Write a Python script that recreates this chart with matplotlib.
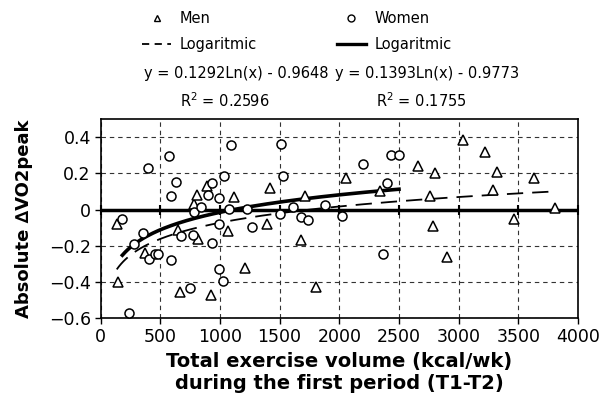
import numpy as np
import matplotlib.pyplot as plt
from matplotlib.lines import Line2D

plt.rcParams['font.family'] = ['DejaVu Sans']

# Men (triangles): exercise volume vs change in VO2peak
men_x = [136, 144, 370, 652, 666, 786, 809, 813, 896, 925, 1069, 1114, 1214,
         1395, 1416, 1678, 1714, 1806, 2058, 2343, 2659, 2762, 2784, 2804,
         2902, 3036, 3217, 3284, 3321, 3466, 3634, 3810]
men_y = [-0.082, -0.40, -0.24, -0.11, -0.455, 0.03, 0.08, -0.163, 0.128,
         -0.472, -0.119, 0.07, -0.32, -0.082, 0.12, -0.17, 0.077, -0.425,
         0.174, 0.10, 0.242, 0.073, -0.088, 0.20, -0.262, 0.383, 0.32, 0.11,
         0.21, -0.051, 0.174, 0.009]

# Women (circles)
women_x = [183, 242, 281, 359, 395, 409, 457, 485, 574, 588, 591, 636, 675,
           750, 773, 784, 840, 904, 932, 932, 995, 995, 995, 1022, 1038, 1080,
           1093, 1225, 1265, 1505, 1513, 1532, 1614, 1678, 1739, 1876, 2024,
           2198, 2365, 2399, 2432, 2500]
women_y = [-0.05, -0.57, -0.19, -0.13, 0.23, -0.27, -0.245, -0.245, 0.295,
           0.073, -0.277, 0.152, -0.143, -0.435, -0.142, -0.015, 0.017, 0.082,
           0.145, -0.187, 0.066, -0.077, -0.33, -0.395, 0.184, 0.005, 0.355,
           0.002, -0.097, -0.027, 0.363, 0.185, 0.015, -0.04, -0.055, 0.024,
           -0.037, 0.25, -0.247, 0.145, 0.304, 0.304]

# logarithmic trendlines y = a*ln(x) + b, as printed on the chart
men_fit = (0.1292, -0.9648)
women_fit = (0.1393, -0.9773)
men_range = (136, 3770)
women_range = (183, 2500)

xticks = [0, 500, 1000, 1500, 2000, 2500, 3000, 3500, 4000]
yticks = [-0.6, -0.4, -0.2, 0, 0.2, 0.4]

fig = plt.figure(figsize=(6.03, 4.04), dpi=100)
ax = fig.add_axes([0.1667, 0.2121, 0.792, 0.4933])

ax.set_xlim(0, 4000)
ax.set_ylim(-0.6, 0.5)
ax.set_xticks(xticks)
ax.set_yticks(yticks)
ax.set_yticklabels(['\u22120.6', '\u22120.4', '\u22120.2', '0', '0.2', '0.4'])
ax.tick_params(labelsize=12.5, length=4, width=1, direction='out', pad=3)
ax.grid(True, linestyle=(0, (4, 3.5)), color='#333333', linewidth=0.8)
for s in ax.spines.values():
    s.set_linewidth(1.2)

# zero line with small tick marks
ax.axhline(0, color='black', linewidth=2.5, zorder=3)
ax.plot(xticks, [0] * len(xticks), linestyle='none', marker='|', ms=7,
        mew=1.5, color='black', zorder=3, clip_on=False)

mx = np.linspace(men_range[0], men_range[1], 200)
ax.plot(mx, men_fit[0] * np.log(mx) + men_fit[1], color='black', lw=1.3,
        dashes=(9, 5), zorder=4)
wx = np.linspace(women_range[0], women_range[1], 200)
ax.plot(wx, women_fit[0] * np.log(wx) + women_fit[1], color='black', lw=2.6,
        zorder=4)

ax.plot(men_x, men_y, linestyle='none', marker='^', ms=7, mfc='white',
        mec='black', mew=1.1, zorder=5)
ax.plot(women_x, women_y, linestyle='none', marker='o', ms=6.5, mfc='white',
        mec='black', mew=1.1, zorder=5)

ax.set_xlabel('Total exercise volume (kcal/wk)\nduring the first period (T1-T2)',
              fontsize=14, fontweight='bold', labelpad=4, linespacing=1.2)
ax.set_ylabel('Absolute \u2206VO2peak', fontsize=13, fontweight='bold',
              labelpad=11)

handles = [
    Line2D([], [], linestyle='none', marker='^', ms=5, mfc='white', mec='black'),
    Line2D([], [], color='black', lw=1.3, dashes=(4, 3)),
    Line2D([], [], linestyle='none', marker='o', ms=5, mfc='white', mec='black'),
    Line2D([], [], color='black', lw=2.4),
]
labels = ['Men', 'Logaritmic', 'Women', 'Logaritmic']
fig.legend(handles, labels, ncol=2, loc='upper left',
           bbox_to_anchor=(0.2235, 0.991), frameon=False, fontsize=10.5,
           borderpad=0, handlelength=2, handletextpad=0.6,
           columnspacing=5.45, labelspacing=0.75)

fig.text(0.391, 0.818, 'y = 0.1292Ln(x) - 0.9648', ha='center', va='center',
         fontsize=10.5)
fig.text(0.372, 0.752, 'R$^2$ = 0.2596', ha='center', va='center',
         fontsize=10.5)
fig.text(0.709, 0.818, 'y = 0.1393Ln(x) - 0.9773', ha='center', va='center',
         fontsize=10.5)
fig.text(0.698, 0.752, 'R$^2$ = 0.1755', ha='center', va='center',
         fontsize=10.5)

fig.savefig('out.png', dpi=100)
